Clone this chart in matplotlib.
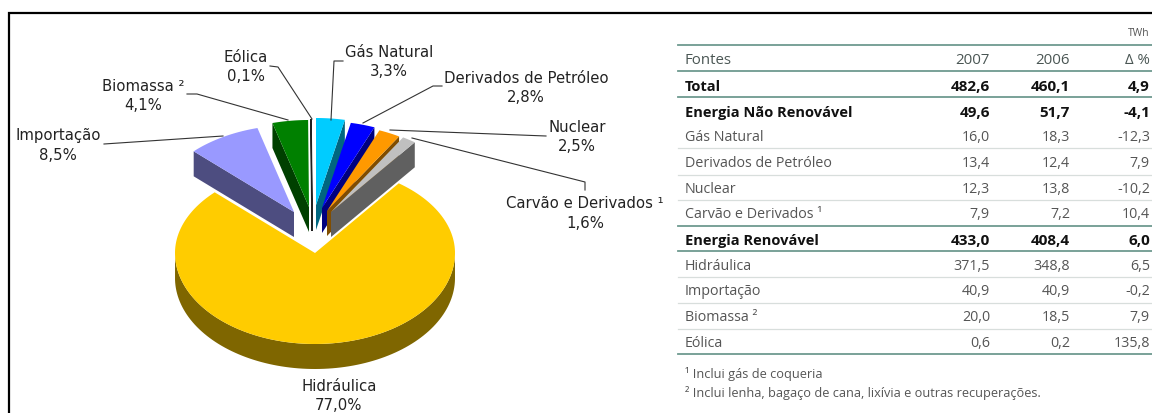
from __future__ import annotations

import matplotlib
matplotlib.use('Agg')
import matplotlib.pyplot as plt
from matplotlib.patches import Polygon
import numpy as np

# pie, clockwise from 12 o'clock
pie_names = ['Gás Natural', 'Derivados de Petróleo', 'Nuclear', 'Carvão e Derivados', 'Hidráulica', 'Importação', 'Biomassa', 'Eólica']
pie_shares = [3.3, 2.8, 2.5, 1.6, 77.0, 8.5, 4.1, 0.1]

table_sources = ['Total', 'Energia Não Renovável', 'Gás Natural', 'Derivados de Petróleo', 'Nuclear', 'Carvão e Derivados ¹',
                 'Energia Renovável', 'Hidráulica', 'Importação', 'Biomassa ²', 'Eólica']
table_2007 = ['482,6', '49,6', '16,0', '13,4', '12,3', '7,9', '433,0', '371,5', '40,9', '20,0', '0,6']
table_2006 = ['460,1', '51,7', '18,3', '12,4', '13,8', '7,2', '408,4', '348,8', '40,9', '18,5', '0,2']
table_delta = ['4,9', '-4,1', '-12,3', '7,9', '-10,2', '10,4', '6,0', '6,5', '-0,2', '7,9', '135,8']
bold_rows = ['Total', 'Energia Não Renovável', 'Energia Renovável']

# styles per slice
top_colors = ['#00CCFF', '#0000FF', '#FF9900', '#C0C0C0', '#FFCC00', '#9999FF', '#008000', '#202020']
side_colors = ['#006680', '#000080', '#804D00', '#606060', '#7F6600', '#4D4D80', '#004000', '#202020']
apex_x = [316, 322, 327, 331, 315, 294, 309, 312]
apex_y = [206, 209, 212, 213, 254, 213, 208, 207]

PIE_RX = 140
RY_BACK = 87
RY_FRONT = 91
DEPTH = 25

pie_labels = [
    ('Gás Natural\n3,3%', 389, 62),
    ('Derivados de Petróleo\n2,8%', 526, 88),
    ('Nuclear\n2,5%', 577, 137),
    ('Carvão e Derivados ¹\n1,6%', 585, 213.5),
    ('Hidráulica\n77,0%', 339, 396),
    ('Importação\n8,5%', 58, 145.5),
    ('Biomassa ²\n4,1%', 143, 96),
    ('Eólica\n0,1%', 246, 67),
]
leaders = [
    [(343, 62), (334, 62), (331, 121)],
    [(442, 87), (433, 87), (363, 124)],
    [(546, 137), (390, 131)],
    [(585, 191), (585, 183), (412, 139)],
    [(104, 145), (223, 137)],
    [(187, 95), (197, 95), (288, 121)],
    [(270, 67), (278, 68), (312, 120)],
]


def edge(theta):
    c = np.cos(theta)
    return PIE_RX * np.sin(theta), -np.where(c > 0, RY_BACK, RY_FRONT) * c


def draw_slice(ax, i, start, end):
    cx, cy = apex_x[i], apex_y[i]
    thetas = np.linspace(start, end, 160)
    ex, ey = edge(thetas)
    ex, ey = ex + cx, ey + cy

    # outer wall, only the part facing the viewer
    front = (thetas > np.pi / 2) & (thetas < 3 * np.pi / 2)
    if front.any():
        fx, fy = ex[front], ey[front]
        wall = np.column_stack([np.r_[fx, fx[::-1]], np.r_[fy, fy[::-1] + DEPTH]])
        ax.add_patch(Polygon(wall, fc=side_colors[i], ec='none', zorder=2))

    # cut face on the side turned to the viewer (small slices only)
    if end - start < np.pi:
        t = end if end < np.pi else start
        wx, wy = edge(t)
        face = [(cx, cy), (cx + wx, cy + wy), (cx + wx, cy + wy + DEPTH), (cx, cy + DEPTH)]
        ax.add_patch(Polygon(face, fc=side_colors[i], ec=side_colors[i], lw=1.0 if i == 7 else 0, zorder=3 + i * 0.01))

    top = np.column_stack([np.r_[cx, ex], np.r_[cy, ey]])
    ax.add_patch(Polygon(top, fc=top_colors[i], ec='none', zorder=4))


def main() -> None:
    fig = plt.figure(figsize=(11.52, 4.14), dpi=100)
    ax = fig.add_axes([0, 0, 1, 1])
    ax.set_xlim(0, 1152)
    ax.set_ylim(414, 0)
    ax.axis('off')

    # frame, open on the right and at the bottom
    ax.plot([9, 9, 1152], [414, 14, 14], color='black', lw=1.6, solid_capstyle='butt', solid_joinstyle='miter')

    bounds = np.r_[0, np.cumsum(pie_shares)] / sum(pie_shares) * 2 * np.pi
    draw_slice(ax, 4, bounds[4], bounds[5])
    for i in [5, 6, 7, 3, 2, 1, 0]:
        draw_slice(ax, i, bounds[i], bounds[i + 1])

    for pts in leaders:
        xs, ys = zip(*pts)
        ax.plot(xs, ys, color='#333333', lw=0.8, zorder=5)
    for text, x, y in pie_labels:
        ax.text(x, y, text, ha='center', va='center', fontsize=10.7, color='#222222', linespacing=1.34, zorder=6)

    # table
    tbl_font = 'Open Sans'
    ax.text(1150, 34, 'TWh', ha='right', va='center', fontsize=7.5, color='#555555', family=tbl_font)
    header_y = 60
    row_y = [87, 113, 138, 164, 190, 215, 241, 267, 292, 318, 344]
    col_x = [990, 1070, 1150]
    ax.text(685, header_y, 'Fontes', ha='left', va='center', fontsize=10.8, color='#4A5654', family=tbl_font)
    for x, head in zip(col_x, ['2007', '2006', 'Δ %']):
        ax.text(x, header_y, head, ha='right', va='center', fontsize=10.8, color='#4A5654', family=[tbl_font, 'DejaVu Sans'])
    for i, name in enumerate(table_sources):
        is_bold = name in bold_rows
        color = '#111111' if is_bold else '#555555'
        weight = 'bold' if is_bold else 'normal'
        ax.text(685, row_y[i], name, ha='left', va='center', fontsize=10.5 if is_bold else 10.3, color=color, fontweight=weight, family=tbl_font)
        for x, vals in zip(col_x, [table_2007, table_2006, table_delta]):
            ax.text(x, row_y[i], vals[i], ha='right', va='center', fontsize=11 if is_bold else 10.3, color=color, fontweight=weight, family=tbl_font)

    for y in [46, 71.5, 97.5, 226.7, 252, 355]:
        ax.plot([678, 1152], [y, y], color='#6E9A90', lw=1.3)
    for y in [149, 175.7, 201, 278, 304, 330]:
        ax.plot([678, 1152], [y, y], color='#D8DEDC', lw=0.9)

    ax.text(685, 374, '¹ Inclui gás de coqueria', ha='left', va='center', fontsize=9.2, color='#555555', family=tbl_font)
    ax.text(685, 393, '² Inclui lenha, bagaço de cana, lixívia e outras recuperações.', ha='left', va='center', fontsize=9.2, color='#555555', family=tbl_font)

    fig.savefig('out.png', dpi=100)
    plt.close(fig)


if __name__ == '__main__':
    main()
